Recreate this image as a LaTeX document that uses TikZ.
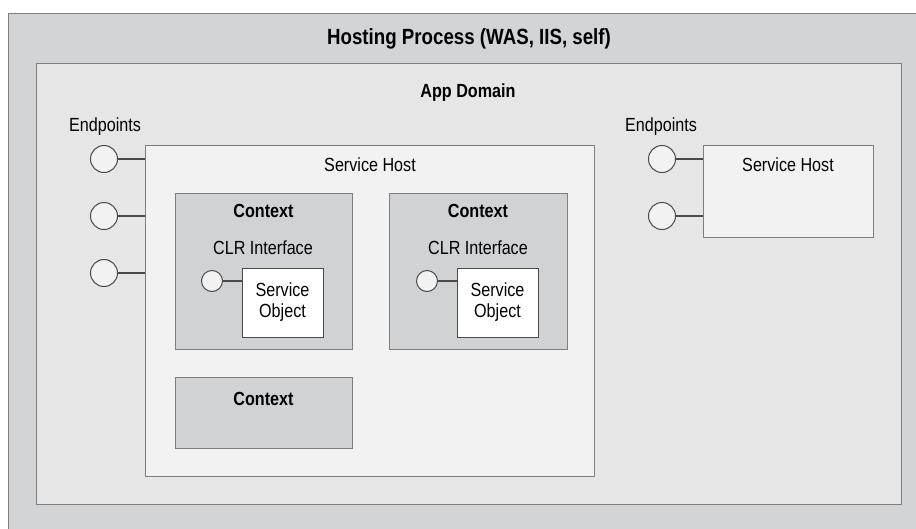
\documentclass[tikz,border=0pt]{standalone}
\usepackage{fontspec}
\setmainfont{Liberation Sans}[FakeStretch=0.85]
\usetikzlibrary{positioning}

\definecolor{procfill}{HTML}{D3D4D6}
\definecolor{domainfill}{HTML}{E6E6E6}
\definecolor{hostfill}{HTML}{F2F2F2}
\definecolor{ctxfill}{HTML}{D1D2D4}
\definecolor{edgegray}{HTML}{7E7E80}
\definecolor{portgray}{HTML}{4A4A4A}

\begin{document}
\begin{tikzpicture}[x=1pt, y=-1pt,
    box/.style={draw=edgegray, line width=1.3pt, anchor=north west, inner sep=0pt},
    procbox/.style={box, fill=procfill},
    domainbox/.style={box, fill=domainfill},
    hostbox/.style={box, fill=hostfill},
    ctxbox/.style={box, fill=ctxfill},
    objbox/.style={draw=portgray, line width=1pt, fill=white, inner sep=0pt, align=center,
        font=\fontsize{19}{21}\selectfont},
    port/.style={circle, draw=portgray, line width=1pt, fill=hostfill, inner sep=0pt},
    eport/.style={port, minimum size=27pt},
    cport/.style={port, minimum size=21pt},
    wire/.style={draw=portgray, line width=1.2pt},
    lbl/.style={anchor=base, inner sep=0pt, font=\fontsize{19}{21}\selectfont},
    blbl/.style={lbl, font=\fontsize{19}{21}\selectfont\bfseries},
    ttl/.style={lbl, font=\fontsize{22}{24}\selectfont\bfseries}]

    % 画布大小
    \useasboundingbox (0,0) rectangle (916,528);
    \clip (0,0) rectangle (916,528);

    % 外层：宿主进程与应用程序域
    \node[procbox, minimum width=930pt, minimum height=530pt] (proc) at (8,13) {};
    \node[ttl] (proctitle) at (469,44) {Hosting Process (WAS, IIS, self)};
    \node[domainbox, minimum width=865pt, minimum height=441pt] (domain) at (36,63) {};
    \node[blbl] (domaintitle) at (468,97) {App Domain};

    % 左边的 Service Host
    \node[hostbox, minimum width=449pt, minimum height=331pt] (hosta) at (145,145) {};
    \node[lbl] (hostatitle) at (370,171) {Service Host};
    \node[lbl] (epatitle) at (105,131) {Endpoints};

    % 三个 Context
    \node[ctxbox, minimum width=177pt, minimum height=156pt] (ctxa) at (175,193) {};
    \node[ctxbox, minimum width=178pt, minimum height=156pt] (ctxb) at (389,193) {};
    \node[ctxbox, minimum width=177pt, minimum height=71pt] (ctxc) at (175,377) {};
    \node[blbl] (ctxatitle) at (263.5,217) {Context};
    \node[blbl] (ctxbtitle) at (478,217) {Context};
    \node[blbl] (ctxctitle) at (263.5,405) {Context};
    \node[lbl] (clra) at (263,254) {CLR Interface};
    \node[lbl] (clrb) at (478,254) {CLR Interface};

    % Service Object 与接口
    \node[objbox, minimum width=81pt, minimum height=69pt] (obja) at (282.5,302.5) {Service\\Object};
    \node[objbox, minimum width=81pt, minimum height=69pt] (objb) at (497.5,302.5) {Service\\Object};
    \node[cport] (porta) at (212,281) {};
    \node[cport] (portb) at (427,281) {};
    \draw[wire] (porta.east) -- (obja.west |- porta);
    \draw[wire] (portb.east) -- (objb.west |- portb);

    % 左边的 Endpoints
    \foreach \i/\y in {1/159, 2/216, 3/273} {
        \node[eport] (epa\i) at (104,\y) {};
        \draw[wire] (epa\i.east) -- (hosta.west |- epa\i);
    }

    % 右边的 Service Host 和 Endpoints
    \node[hostbox, minimum width=170pt, minimum height=92pt] (hostb) at (703,145) {};
    \node[lbl] (hostbtitle) at (788,171) {Service Host};
    \node[lbl] (epbtitle) at (661,131) {Endpoints};
    \foreach \i/\y in {1/159, 2/216} {
        \node[eport] (epb\i) at (662,\y) {};
        \draw[wire] (epb\i.east) -- (hostb.west |- epb\i);
    }
\end{tikzpicture}
\end{document}
